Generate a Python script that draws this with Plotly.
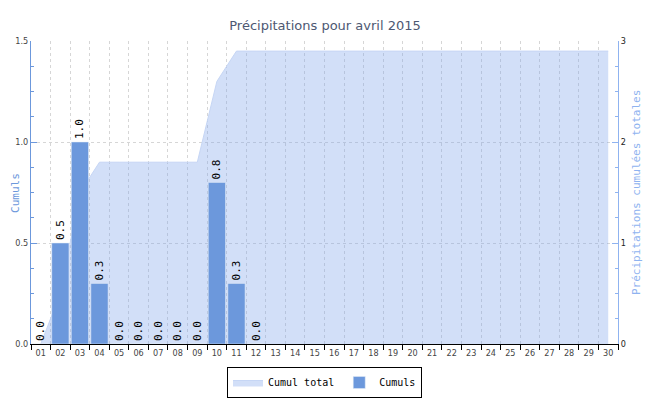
import plotly.graph_objects as go

# Données : précipitations journalières et cumul, avril 2015
days = [f"{d:02d}" for d in range(1, 31)]
daily_mm = [0.0, 0.5, 1.0, 0.3, 0.0, 0.0, 0.0, 0.0, 0.0, 0.8, 0.3, 0.0]
cumul_total = [0.0, 0.5, 1.5, 1.8, 1.8, 1.8, 1.8, 1.8, 1.8, 2.6, 2.9] + [2.9] * 19

MONO = "DejaVu Sans Mono"
SANS = "DejaVu Sans Condensed, DejaVu Sans"
BAR_COLOR = "#6c98dc"
RIGHT_COLOR = "#8fb3f0"
GRID = "#d6d6d6"

fig = go.Figure()

# area on the primary (right) axis so the bars in the overlay sit on top
fig.add_trace(
    go.Scatter(
        x=days,
        y=cumul_total,
        name="Cumul total",
        mode="lines",
        fill="tozeroy",
        fillcolor="rgba(127, 164, 235, 0.35)",
        line=dict(color="#c6d6f5", width=1),
        yaxis="y",
    )
)

fig.add_trace(
    go.Bar(
        x=days[: len(daily_mm)],
        y=daily_mm,
        name="Cumuls",
        marker_color=BAR_COLOR,
        texttemplate="%{y:.1f}",
        textposition="outside",
        textangle=-90,
        constraintext="none",
        cliponaxis=False,
        textfont=dict(family=MONO, size=11, color="black"),
        yaxis="y2",
    )
)

fig.update_layout(
    width=650,
    height=400,
    margin=dict(l=31, r=32, t=41, b=56, autoexpand=False),
    plot_bgcolor="white",
    paper_bgcolor="white",
    bargap=0.12,
    title=dict(
        text="Précipitations pour avril 2015",
        x=0.5,
        xanchor="center",
        y=1 - 25 / 400,
        yanchor="middle",
        font=dict(family="DejaVu Sans", size=13, color="#4d5872"),
    ),
    xaxis=dict(
        type="category",
        range=[-0.5, 29.5],
        tickson="boundaries",
        ticks="outside",
        ticklen=5,
        tickcolor="black",
        tickangle=0,
        automargin=False,
        showline=True,
        linecolor="black",
        showgrid=True,
        gridcolor=GRID,
        griddash="3px,3px",
        tickfont=dict(family=SANS, size=9, color="#444444"),
        fixedrange=True,
    ),
    yaxis=dict(
        side="right",
        range=[0, 3],
        dtick=1,
        ticks="inside",
        ticklen=6,
        tickcolor=RIGHT_COLOR,
        automargin=False,
        showline=True,
        linecolor=RIGHT_COLOR,
        linewidth=1,
        showgrid=False,
        zeroline=False,
        minor=dict(dtick=0.25, ticks="inside", ticklen=3, tickcolor=RIGHT_COLOR, showgrid=False),
        tickfont=dict(family=SANS, size=9, color="#222222"),
    ),
    yaxis2=dict(
        overlaying="y",
        side="left",
        range=[0, 1.5],
        dtick=0.5,
        tickformat=".1f",
        ticks="inside",
        ticklen=6,
        tickcolor=BAR_COLOR,
        automargin=False,
        showline=True,
        linecolor=BAR_COLOR,
        linewidth=1,
        showgrid=True,
        gridcolor=GRID,
        griddash="3px,3px",
        zeroline=False,
        minor=dict(dtick=0.125, ticks="inside", ticklen=3, tickcolor=BAR_COLOR, showgrid=False),
        tickfont=dict(family=SANS, size=9, color="#444444"),
    ),
    legend=dict(
        orientation="h",
        x=0.5,
        xanchor="center",
        yref="container",
        y=1 - 367 / 400,
        yanchor="top",
        bordercolor="black",
        borderwidth=1,
        bgcolor="white",
        font=dict(family=MONO, size=10, color="black"),
        traceorder="normal",
        itemwidth=30,
    ),
)

# axis titles placed as annotations so they stay inside the canvas
fig.add_annotation(
    text="Cumuls",
    xref="paper", yref="paper",
    x=-0.041, y=0.5,
    textangle=-90,
    showarrow=False,
    font=dict(family=MONO, size=11, color=BAR_COLOR),
)
fig.add_annotation(
    text="Précipitations cumulées totales",
    xref="paper", yref="paper",
    x=1.046, y=0.5,
    textangle=-90,
    showarrow=False,
    font=dict(family=MONO, size=11, color=RIGHT_COLOR),
)

# drop the default 8px body margin so the figure sits at the window's corner
fig.write_html(
    "out.html",
    config={"displayModeBar": False},
    post_script="document.body.style.margin = '0';",
)
